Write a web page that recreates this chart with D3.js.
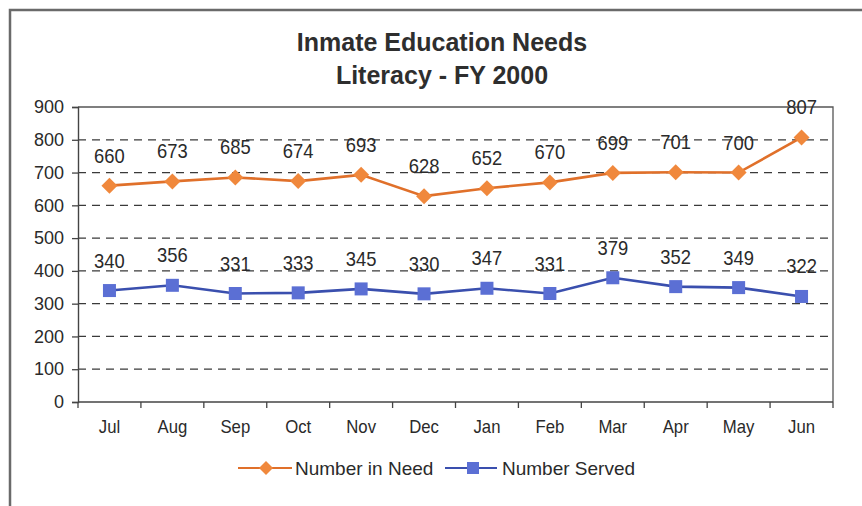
<!DOCTYPE html>
<html>
<head>
<meta charset="utf-8">
<script src="https://cdn.jsdelivr.net/npm/d3@7"></script>
<style>
  html, body { margin: 0; padding: 0; background: #fff; }
  svg { display: block; font-family: "Liberation Sans", Arial, sans-serif; }
</style>
</head>
<body>
<svg id="chart" width="862" height="506"></svg>
<script>
// Monthly literacy figures, fiscal year 2000
const months = ["Jul","Aug","Sep","Oct","Nov","Dec","Jan","Feb","Mar","Apr","May","Jun"];
const numberInNeed = [660, 673, 685, 674, 693, 628, 652, 670, 699, 701, 700, 807];
const numberServed = [340, 356, 331, 333, 345, 330, 347, 331, 379, 352, 349, 322];
const yTicks = [0, 100, 200, 300, 400, 500, 600, 700, 800, 900];
const titleLines = ["Inmate Education Needs", "Literacy - FY 2000"];
const seriesNames = ["Number in Need", "Number Served"];

const svg = d3.select("#chart");
const plot = { left: 78, right: 833, top: 107, bottom: 402 };

const orange = "#F0883C";
const orangeDark = "#E0702A";
const blue = "#3A4FAE";
const blueFill = "#5B6FD4";
const textColor = "#2a2a2a";

// outer chart frame
svg.append("rect")
  .attr("x", 10).attr("y", 10)
  .attr("width", 870).attr("height", 520)
  .attr("fill", "#fff")
  .attr("stroke", "#6a6a6a").attr("stroke-width", 2.5);

// titles
svg.selectAll("text.title").data(titleLines).join("text")
  .attr("class", "title")
  .attr("x", 442).attr("y", (d, i) => 51 + i * 33)
  .attr("text-anchor", "middle")
  .attr("font-size", 25).attr("font-weight", "bold")
  .attr("fill", "#2e2e2e")
  .text(d => d);

const x = d3.scaleBand().domain(months).range([plot.left, plot.right]);
const y = d3.scaleLinear().domain([0, 900]).range([plot.bottom, plot.top]);

// dashed gridlines
svg.append("g").selectAll("line").data(yTicks.filter(v => v > 0 && v < 900)).join("line")
  .attr("x1", plot.left).attr("x2", plot.right)
  .attr("y1", d => y(d)).attr("y2", d => y(d))
  .attr("stroke", "#3a3a3a").attr("stroke-width", 1.2)
  .attr("stroke-dasharray", "8,6");

// plot frame (top and right)
svg.append("path")
  .attr("d", `M${plot.left},${plot.top}H${plot.right}V${plot.bottom}`)
  .attr("fill", "none").attr("stroke", "#555").attr("stroke-width", 1.3);

// y axis
const yAxis = svg.append("g")
  .attr("transform", `translate(${plot.left},0)`)
  .call(d3.axisLeft(y).tickValues(yTicks).tickSize(6).tickPadding(8));
yAxis.select(".domain").attr("stroke", "#444").attr("stroke-width", 1.4);
yAxis.selectAll(".tick line").attr("stroke", "#444").attr("stroke-width", 1.3);
yAxis.selectAll(".tick text")
  .attr("font-size", 18).attr("fill", textColor)
  .attr("font-family", "Liberation Sans, Arial, sans-serif");

// x axis: ticks sit between categories
const xAxisG = svg.append("g").attr("transform", `translate(0,${plot.bottom})`);
xAxisG.append("line")
  .attr("x1", plot.left).attr("x2", plot.right)
  .attr("stroke", "#444").attr("stroke-width", 1.4);
const bounds = months.map(m => x(m)).concat([plot.right]);
xAxisG.selectAll("line.tk").data(bounds).join("line")
  .attr("class", "tk")
  .attr("x1", d => d).attr("x2", d => d)
  .attr("y1", 0).attr("y2", 6)
  .attr("stroke", "#444").attr("stroke-width", 1.3);
xAxisG.selectAll("text").data(months).join("text")
  .attr("transform", d => `translate(${x(d) + x.bandwidth() / 2},31) scale(0.93,1)`)
  .attr("text-anchor", "middle")
  .attr("font-size", 18).attr("fill", textColor)
  .text(d => d);

const cx = (d, i) => x(months[i]) + x.bandwidth() / 2;

const line = d3.line().x((d, i) => cx(d, i)).y(d => y(d));

function valueLabels(values) {
  svg.append("g").selectAll("text").data(values).join("text")
    .attr("transform", (d, i) => `translate(${cx(d, i)},${y(d) - 23}) scale(0.92,1)`)
    .attr("text-anchor", "middle")
    .attr("font-size", 20).attr("fill", textColor)
    .text(d => d);
}

// Number in Need series
svg.append("path").datum(numberInNeed)
  .attr("d", line).attr("fill", "none")
  .attr("stroke", orangeDark).attr("stroke-width", 2.6);
svg.append("g").selectAll("path").data(numberInNeed).join("path")
  .attr("transform", (d, i) => `translate(${cx(d, i)},${y(d)})`)
  .attr("d", "M0,-8L8,0L0,8L-8,0Z")
  .attr("fill", orange);
valueLabels(numberInNeed);

// Number Served series
svg.append("path").datum(numberServed)
  .attr("d", line).attr("fill", "none")
  .attr("stroke", blue).attr("stroke-width", 2.6);
svg.append("g").selectAll("rect").data(numberServed).join("rect")
  .attr("x", (d, i) => cx(d, i) - 6.5).attr("y", d => y(d) - 6.5)
  .attr("width", 13).attr("height", 13)
  .attr("fill", blueFill);
valueLabels(numberServed);

// legend
const legend = svg.append("g").attr("transform", "translate(0,468)");
const leg1 = legend.append("g").attr("transform", "translate(238,0)");
leg1.append("line").attr("x1", 0).attr("x2", 54)
  .attr("stroke", orangeDark).attr("stroke-width", 2.2);
leg1.append("path").attr("transform", "translate(28,0)")
  .attr("d", "M0,-7L7,0L0,7L-7,0Z").attr("fill", orange);
leg1.append("text").attr("x", 57).attr("y", 7)
  .attr("font-size", 19).attr("fill", textColor).text(seriesNames[0]);

const leg2 = legend.append("g").attr("transform", "translate(445,0)");
leg2.append("line").attr("x1", 0).attr("x2", 52)
  .attr("stroke", blue).attr("stroke-width", 2.2);
leg2.append("rect").attr("x", 22).attr("y", -6).attr("width", 12).attr("height", 12)
  .attr("fill", blueFill);
leg2.append("text").attr("x", 57).attr("y", 7)
  .attr("font-size", 19).attr("fill", textColor).text(seriesNames[1]);
</script>
</body>
</html>
